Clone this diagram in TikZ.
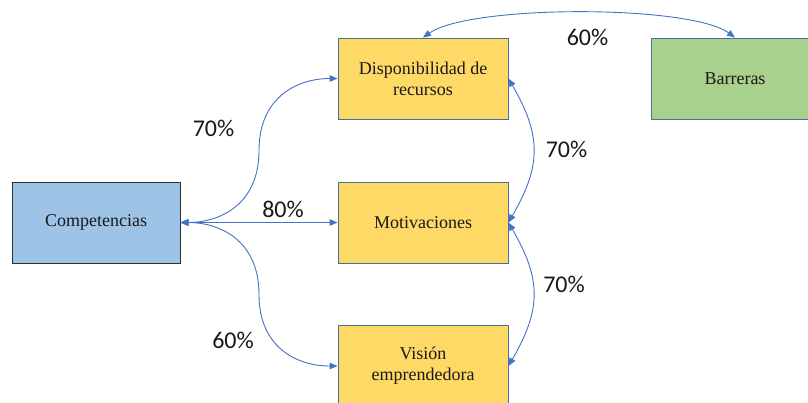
\documentclass[tikz,border=0pt]{standalone}
\usepackage{fontspec}
\setmainfont{Liberation Serif}
\newfontfamily\pctfont{Carlito}
\usetikzlibrary{arrows.meta,calc}

\definecolor{linkblue}{HTML}{4472C4}
\definecolor{boxblue}{HTML}{9DC3E6}
\definecolor{boxyellow}{HTML}{FFD966}
\definecolor{boxgreen}{HTML}{A9D18E}
\definecolor{edgeblue}{HTML}{41719C}
\definecolor{edgedark}{HTML}{2E2E2E}

\tikzset{
  box/.style={rectangle, draw=edgeblue, line width=0.9pt, minimum width=170pt,
    minimum height=81pt, inner sep=0pt, align=center, text=black!90,
    font=\fontsize{18}{21}\selectfont},
  link/.style={draw=linkblue, line width=0.9pt,
    {Triangle[length=8pt,width=6.5pt]}-{Triangle[length=8pt,width=6.5pt]}},
  pct/.style={font=\pctfont\fontsize{24}{28}\selectfont, text=black!90, inner sep=0pt}
}

\begin{document}
\begin{tikzpicture}[x=1pt,y=-1pt]
  \clip (0,0) rectangle (808,402);
  \fill[white] (0,0) rectangle (808,402);

  % boxes
  \node[box, fill=boxblue, draw=edgedark, minimum width=168pt] (comp) at (96,222.5) {Competencias};
  \node[box, fill=boxyellow] (disp) at (423,78.5) {Disponibilidad de\\recursos};
  \node[box, fill=boxyellow] (moti) at (423,222.5) {Motivaciones};
  \node[box, fill=boxyellow] (visi) at (423,366) {Visión\\emprendedora};
  \node[box, fill=boxgreen, minimum width=168pt] (barr) at (735,78.5) {Barreras};

  % links from Competencias
  \coordinate (mUp) at (259,150.5);
  \coordinate (mDn) at (259,294.5);
  \draw[link] (comp.east) .. controls ($(comp.east)+(39.5,0)$) and ($(mUp)+(0,54)$) .. (mUp)
              .. controls ($(mUp)+(0,-54)$) and ($(disp.west)+(-39.5,0)$) .. (disp.west);
  \draw[link] (comp.east) -- (moti.west);
  \draw[link] (comp.east) .. controls ($(comp.east)+(39.5,0)$) and ($(mDn)+(0,-54)$) .. (mDn)
              .. controls ($(mDn)+(0,54)$) and ($(visi.west)+(-39.5,0)$) .. (visi.west);

  % links along the right side
  \draw[link] (disp.east) .. controls ($(disp.east)+(33,57)$) and ($(moti.east)+(33,-57)$) .. (moti.east);
  \draw[link] (moti.east) .. controls ($(moti.east)+(33,57)$) and ($(visi.east)+(33,-57)$) .. (visi.east);

  % link across the top
  \draw[link] (disp.north) .. controls ($(disp.north)+(47,-33)$) and ($(barr.north)+(-45,-33)$) .. (barr.north);

  % percentages
  \node[pct] (p1) at (213.5,128) {70\%};
  \node[pct] (p2) at (283,209.5) {80\%};
  \node[pct] (p3) at (233,340.5) {60\%};
  \node[pct] (p4) at (566.5,149.5) {70\%};
  \node[pct] (p5) at (564,284.5) {70\%};
  \node[pct] (p6) at (587.5,37.5) {60\%};
\end{tikzpicture}
\end{document}
